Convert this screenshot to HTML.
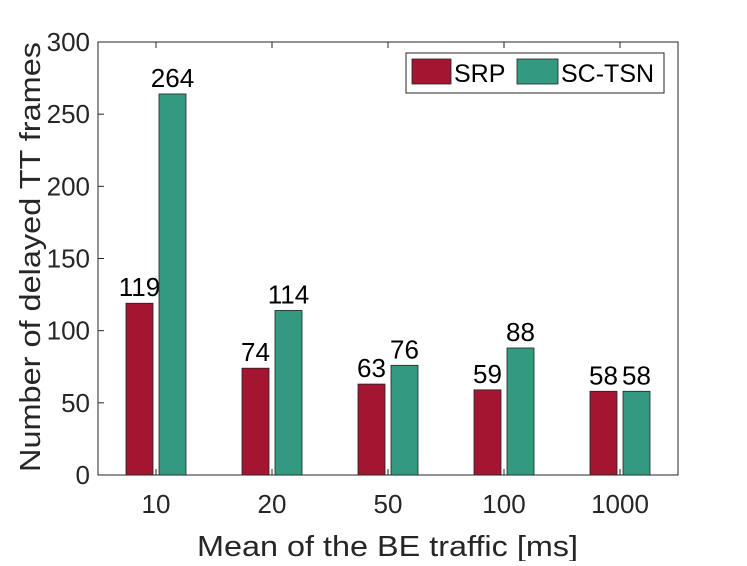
<!DOCTYPE html>
<html><head><meta charset="utf-8"><style>
body{margin:0;background:#fff;}
svg text{font-family:"Liberation Sans",Arial,sans-serif;}
</style></head><body>
<svg id="chart" width="747" height="561" xmlns="http://www.w3.org/2000/svg">
<rect x="0" y="0" width="747" height="561" fill="#fff"/>
<g id="g"></g>
</svg>
<script>
const categories=["10","20","50","100","1000"];
const srpValues=[119,74,63,59,58];
const sctsnValues=[264,114,76,88,58];
const yTicks=[0,50,100,150,200,250,300];
const seriesNames=["SRP","SC-TSN"];

const NS="http://www.w3.org/2000/svg";
const g=document.getElementById('g');
const L=98,R=678,T=42,B=475,yMax=300;
const band=(R-L)/categories.length;
const xc=i=>L+band*(i+0.5);
const y=v=>B-(v/yMax)*(B-T);
function mk(tag,attrs,text){const e=document.createElementNS(NS,tag);for(const k in attrs)e.setAttribute(k,attrs[k]);if(text!==undefined)e.textContent=text;g.appendChild(e);return e;}

const frame=mk('rect',{x:L,y:T,width:R-L,height:B-T,fill:'none',stroke:'#262626','stroke-width':1});



yTicks.forEach(t=>{
  const tk=mk('line',{x1:L,x2:L+6,y1:y(t),y2:y(t),stroke:'#262626'});
  
  
  const lb=mk('text',{x:L-8,y:y(t)+9,'text-anchor':'end','font-size':26,fill:'#262626'},t);
  
  
});

const colors=['#a31530','#339a80'];
const bw=27,off=16.5;
categories.forEach((c,i)=>{
  const tk=mk('line',{x1:xc(i),x2:xc(i),y1:B,y2:B-6,stroke:'#262626'});
  
  
  const tk2=mk('line',{x1:xc(i),x2:xc(i),y1:T,y2:T+6,stroke:'#262626'});
  
  
  const lb=mk('text',{x:xc(i),y:B+38,'text-anchor':'middle','font-size':26,fill:'#262626'},c);
  
  
  [srpValues,sctsnValues].forEach((vals,s)=>{
    const cx=xc(i)+(s===0?-off:off);
    const v=vals[i];
    const r=mk('rect',{x:cx-bw/2,y:y(v),width:bw,height:B-y(v),fill:colors[s],stroke:'#222','stroke-width':0.8});
    
    
    const t=mk('text',{x:cx,y:y(v)-7,'text-anchor':'middle','font-size':26,fill:'#000'},v);
    
    
  });
});

const xt=mk('text',{x:197,y:556,'font-size':29,fill:'#262626',textLength:381,lengthAdjust:'spacingAndGlyphs'},'Mean of the BE traffic [ms]');


const yt=mk('text',{x:0,y:0,'text-anchor':'middle','font-size':29,fill:'#262626',textLength:430,lengthAdjust:'spacingAndGlyphs',transform:'translate(40,257) rotate(-90)'},'Number of delayed TT frames');



const lg=mk('rect',{x:406,y:53,width:258,height:40,fill:'#fff',stroke:'#262626','stroke-width':1});


const sw1=mk('rect',{x:412,y:59,width:39,height:25,fill:colors[0],stroke:'#222','stroke-width':0.8});


const l1=mk('text',{x:454,y:82,'font-size':25,fill:'#000'},seriesNames[0]);


const sw2=mk('rect',{x:517,y:59,width:41,height:25,fill:colors[1],stroke:'#222','stroke-width':0.8});


const l2=mk('text',{x:561,y:82,'font-size':25,fill:'#000'},seriesNames[1]);


</script>
</body></html>
